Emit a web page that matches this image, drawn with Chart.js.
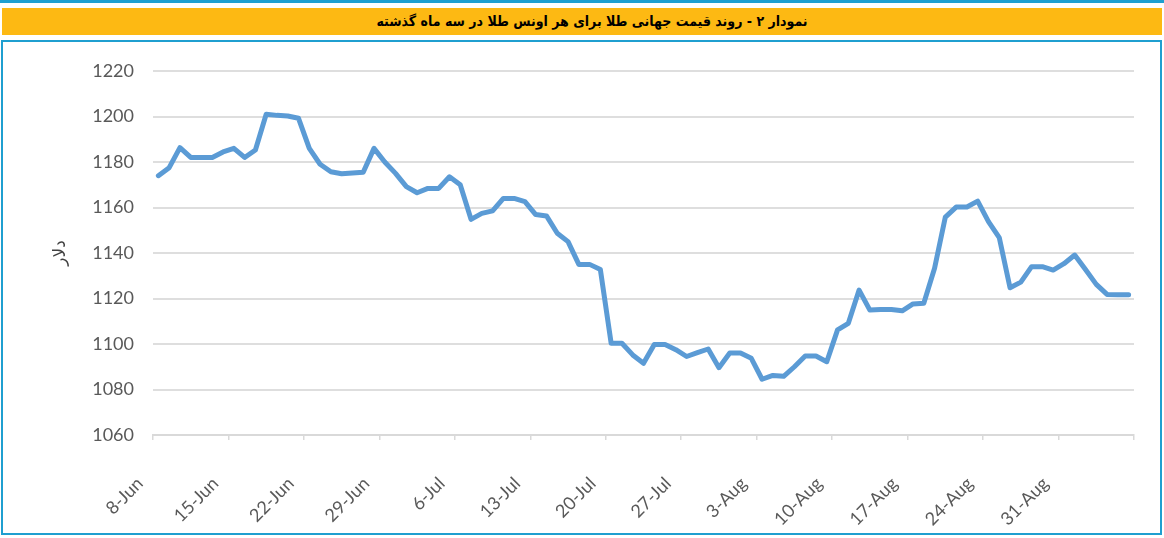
<!DOCTYPE html>
<html><head><meta charset="utf-8">
<script src="https://cdn.jsdelivr.net/npm/chart.js@4.4.1/dist/chart.umd.min.js"></script>
<style>
html,body{margin:0;padding:0;background:#fff;}
body{width:1164px;height:538px;position:relative;overflow:hidden;}
#topline{position:absolute;left:0;top:0;width:1164px;height:3px;background:#1f9fd0;}
#banner{position:absolute;left:2px;top:8px;width:1160px;height:27px;background:#fdb913;color:#000;font:bold 14px "DejaVu Sans Condensed","DejaVu Sans",sans-serif;text-align:center;line-height:27px;direction:rtl;}
#banner span{position:relative;left:10px;}
#frame{position:absolute;left:1px;top:40px;width:1161px;height:495px;border:2px solid #1f9fd0;box-sizing:border-box;}
#c{position:absolute;left:0;top:0;}
</style></head><body>
<div id="topline"></div>
<div id="banner"><span>نمودار ۲ - روند قیمت جهانی طلا برای هر اونس طلا در سه ماه گذشته</span></div>
<div id="frame"></div>
<canvas id="c" width="1164" height="538"></canvas>
<script>
// Week tick labels (every 7 days starting 8-Jun)
const tickLabels = ['8-Jun','15-Jun','22-Jun','29-Jun','6-Jul','13-Jul','20-Jul','27-Jul','3-Aug','10-Aug','17-Aug','24-Aug','31-Aug'];
const yTicks = [1060,1080,1100,1120,1140,1160,1180,1200,1220];
const yTitle = 'دلار';
// Daily gold price (USD/oz), 8-Jun .. 6-Sep
const goldPrice = [
 1174,1177.5,1186.3,1182,1182,1182,1184.4,1186,1182,1185.3,
 1201,1200.5,1200.2,1199.2,1186,1179,1175.7,1174.8,1175.2,1175.5,
 1186,1180,1175,1169.2,1166.5,1168.4,1168.4,1173.5,1170,1154.8,
 1157.4,1158.5,1164,1164,1162.6,1156.9,1156.3,1148.7,1145,1135,
 1135,1132.7,1100.3,1100.3,1095.2,1091.5,1099.8,1099.8,1097.5,1094.5,
 1096.2,1097.8,1089.6,1096,1096,1093.7,1084.5,1086.2,1085.8,1090,
 1094.7,1094.7,1092.2,1106.2,1109.1,1123.7,1114.9,1115.2,1115.2,1114.6,
 1117.6,1117.9,1133.3,1155.8,1160.2,1160.2,1162.8,1153.8,1146.8,1124.7,
 1127.2,1134,1134,1132.5,1135.3,1139.1,1132.7,1126.2,1121.8,1121.7,
 1121.7
];
const totalDays = tickLabels.length * 7;

new Chart(document.getElementById('c').getContext('2d'), {
  type: 'line',
  data: { datasets: [{
    data: goldPrice.map((v, i) => ({ x: i + 0.5, y: v })),
    borderColor: '#5b9bd5', borderWidth: 5, pointRadius: 0, tension: 0,
    borderJoinStyle: 'round', borderCapStyle: 'round', fill: false
  }]},
  options: {
    responsive: false, animation: false, events: [],
    layout: { padding: { top: 71, right: 30, bottom: 0, left: 0 } },
    plugins: { legend: { display: false }, tooltip: { enabled: false } },
    scales: {
      x: {
        type: 'linear', min: 0, max: totalDays,
        afterBuildTicks: s => { s.ticks = tickLabels.map((_, i) => ({ value: i * 7 })).concat([{ value: totalDays }]); },
        ticks: { autoSkip: false, minRotation: 45, maxRotation: 45, padding: 33, labelOffset: -13,
                 color: '#595959', font: { family: 'Lato', size: 18 },
                 callback: (v, i) => tickLabels[i] ?? '' },
        grid: { drawOnChartArea: false, drawTicks: true, tickLength: 5, color: '#d9d9d9', lineWidth: 1.5 },
        border: { display: true, color: '#d9d9d9', width: 2 },
        afterFit: s => { s.height = 103; s.paddingLeft = 0; s.paddingRight = 0; }
      },
      y: {
        min: 1060, max: 1220,
        afterBuildTicks: s => { s.ticks = yTicks.map(v => ({ value: v })); },
        ticks: { padding: 19, color: '#595959', font: { family: 'Lato', size: 18 }, callback: v => String(v) },
        grid: { color: '#dedede', lineWidth: 2, drawTicks: false },
        border: { display: false },
        title: { display: true, text: yTitle, color: '#404040', font: { family: 'DejaVu Sans', size: 17 }, padding: { top: 50, bottom: 0 } },
        afterFit: s => { s.width = 153; }
      }
    }
  }
});
</script>
</body></html>
